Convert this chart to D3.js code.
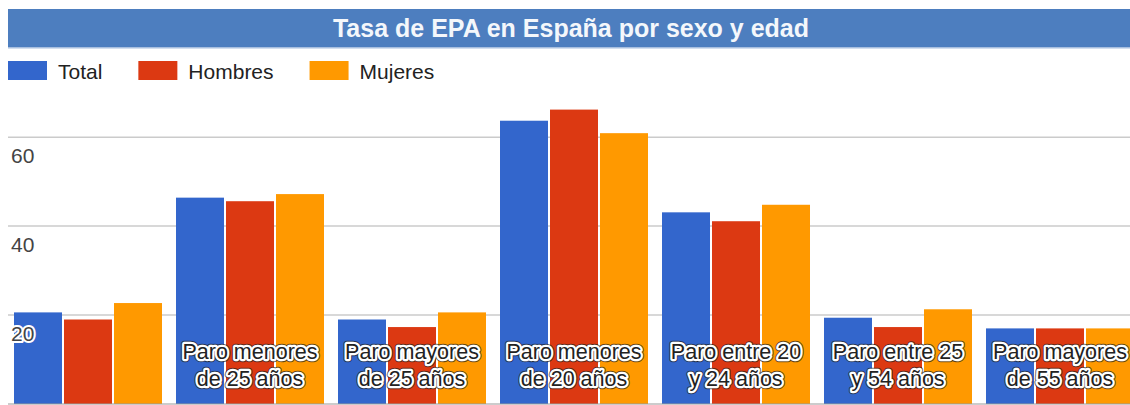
<!DOCTYPE html>
<html>
<head>
<meta charset="utf-8">
<script src="https://cdn.jsdelivr.net/npm/d3@7"></script>
<style>
  html, body { margin: 0; padding: 0; background: #fff; }
  svg { display: block; font-family: "Liberation Sans", Arial, Helvetica, sans-serif; }
</style>
</head>
<body>
<svg id="chart" width="1130" height="405"></svg>
<script>
// ---- data ----
const title = "Tasa de EPA en España por sexo y edad";
const categories = [
  "",
  "Paro menores\nde 25 años",
  "Paro mayores\nde 25 años",
  "Paro menores\nde 20 años",
  "Paro entre 20\ny 24 años",
  "Paro entre 25\ny 54 años",
  "Paro mayores\nde 55 años"
];
const seriesNames = ["Total", "Hombres", "Mujeres"];
const total   = [20.6, 46.4, 19.0, 63.7, 43.1, 19.4, 17.0];
const hombres = [19.0, 45.6, 17.3, 66.2, 41.1, 17.3, 17.0];
const mujeres = [22.7, 47.2, 20.6, 60.9, 44.8, 21.3, 17.0];
const yTicks = [20, 40, 60];
const colors = ["#3366cc", "#dc3912", "#ff9900"];

const seriesValues = [total, hombres, mujeres];
const rows = categories.map((c, i) => ({
  cat: c, idx: i,
  values: seriesNames.map((s, j) => ({ series: s, value: seriesValues[j][i] }))
}));

// ---- layout ----
const W = 1130, H = 405;
const svg = d3.select("#chart");

const x0 = d3.scaleBand()
  .domain(d3.range(categories.length))
  .range([7, 1141])
  .paddingInner(14 / 162)
  .paddingOuter(7 / 162);
const x1 = d3.scaleBand()
  .domain(seriesNames)
  .range([0, x0.bandwidth()])
  .paddingInner(0.04)
  .paddingOuter(0);
const y = d3.scaleLinear().domain([0, 70]).range([404, 92.7]);
const color = d3.scaleOrdinal().domain(seriesNames).range(colors);

// gridlines
svg.append("g").selectAll("line").data(yTicks).join("line")
  .attr("x1", 8).attr("x2", W)
  .attr("y1", d => y(d)).attr("y2", d => y(d))
  .attr("stroke", "#cbcbcb").attr("stroke-width", 1.5);

// bars
const groups = svg.append("g").selectAll("g").data(rows).join("g")
  .attr("transform", d => `translate(${x0(d.idx)},0)`);
groups.selectAll("rect").data(d => d.values).join("rect")
  .attr("x", d => x1(d.series))
  .attr("width", x1.bandwidth())
  .attr("y", d => y(d.value))
  .attr("height", d => y(0) - y(d.value))
  .attr("fill", d => color(d.series));

// baseline
svg.append("line")
  .attr("x1", 8).attr("x2", W)
  .attr("y1", y(0)).attr("y2", y(0))
  .attr("stroke", "#999").attr("stroke-width", 1.2);

// y labels (inside, below gridline)
svg.append("g").selectAll("text").data(yTicks).join("text")
  .attr("x", 11)
  .attr("y", d => y(d) + 26)
  .attr("font-size", 21)
  .attr("fill", "#444")
  .attr("stroke", "#fff").attr("stroke-width", 4)
  .attr("stroke-linejoin", "round")
  .attr("paint-order", "stroke")
  .text(d => d);

// category labels (inside bars, with halo)
const labG = svg.append("g");
rows.forEach(r => {
  const lines = r.cat ? r.cat.split("\n") : [];
  const cx = x0(r.idx) + x0.bandwidth() / 2;
  lines.forEach((ln, k) => {
    const ty = 359 + k * 27;
    labG.append("text")
      .attr("x", cx).attr("y", ty)
      .attr("text-anchor", "middle").attr("font-size", 21.5)
      .attr("fill", "none").attr("stroke", "rgba(30,30,30,0.7)")
      .attr("stroke-width", 6.5).attr("stroke-linejoin", "round")
      .text(ln);
    labG.append("text")
      .attr("x", cx).attr("y", ty)
      .attr("text-anchor", "middle").attr("font-size", 21.5)
      .attr("fill", "#222").attr("stroke", "#fff")
      .attr("stroke-width", 4.5).attr("stroke-linejoin", "round")
      .attr("paint-order", "stroke")
      .text(ln);
  });
});

// title bar
svg.append("rect").attr("x", 8).attr("y", 9).attr("width", W - 8).attr("height", 38)
  .attr("fill", "#4d7ebf");
svg.append("rect").attr("x", 8).attr("y", 47).attr("width", W - 8).attr("height", 1.5)
  .attr("fill", "#a8bfdf");
svg.append("text")
  .attr("x", 571).attr("y", 36.5)
  .attr("text-anchor", "middle")
  .attr("font-size", 25).attr("font-weight", "bold")
  .attr("fill", "#f4f7fb")
  .text(title);

// legend
const leg = svg.append("g");
let lx = 8;
seriesNames.forEach((s, i) => {
  leg.append("rect").attr("x", lx).attr("y", 61).attr("width", 39).attr("height", 19)
    .attr("fill", color(s));
  const t = leg.append("text").attr("x", lx + 50).attr("y", 78.5)
    .attr("font-size", 21).attr("fill", "#222").text(s);
  const w = t.node().getComputedTextLength();
  lx = lx + 50 + w + 36;
});
</script>
</body>
</html>
